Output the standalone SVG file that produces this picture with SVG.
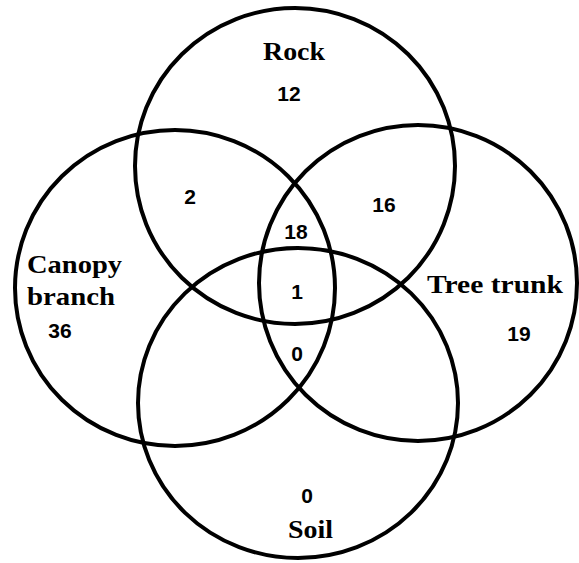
<svg xmlns="http://www.w3.org/2000/svg" width="579" height="563" viewBox="0 0 579 563">
<style>
.c{fill:none;stroke:#000;stroke-width:4}
.l{font-family:"Liberation Serif","Times New Roman",serif;font-weight:bold;font-size:25px;fill:#000}
.n{font-family:"Liberation Sans",Arial,sans-serif;font-weight:bold;font-size:21px;fill:#000;text-anchor:middle}
</style>
<rect width="579" height="563" fill="#fff"/>
<g id="rock">
<ellipse class="c" cx="295" cy="166" rx="160" ry="158"/>
<text class="l" x="263" y="60" textLength="62" lengthAdjust="spacingAndGlyphs">Rock</text>
<text class="n" x="289" y="101">12</text>
</g>
<g id="canopy-branch">
<ellipse class="c" cx="175" cy="288" rx="160" ry="158"/>
<text class="l" x="27" y="273" textLength="95" lengthAdjust="spacingAndGlyphs">Canopy</text>
<text class="l" x="27" y="305" textLength="88" lengthAdjust="spacingAndGlyphs">branch</text>
<text class="n" x="60" y="338">36</text>
</g>
<g id="tree-trunk">
<ellipse class="c" cx="418" cy="283" rx="159" ry="158"/>
<text class="l" x="427" y="293" textLength="136" lengthAdjust="spacingAndGlyphs">Tree trunk</text>
<text class="n" x="519" y="341">19</text>
</g>
<g id="soil">
<ellipse class="c" cx="298" cy="403" rx="160" ry="155"/>
<text class="l" x="288" y="538" textLength="45" lengthAdjust="spacingAndGlyphs">Soil</text>
<text class="n" x="307" y="503">0</text>
</g>
<g id="overlaps">
<text class="n" x="190" y="204">2</text>
<text class="n" x="384" y="212">16</text>
<text class="n" x="296" y="239">18</text>
<text class="n" x="297" y="299">1</text>
<text class="n" x="297" y="361">0</text>
</g>
</svg>
